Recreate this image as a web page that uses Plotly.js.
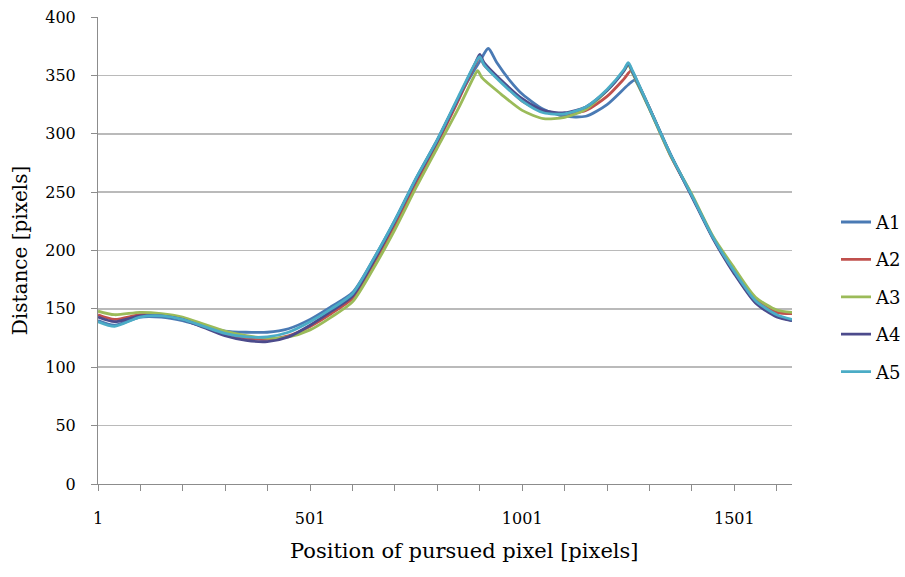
<!DOCTYPE html>
<html>
<head>
<meta charset="utf-8">
<script src="https://cdn.plot.ly/plotly-3.0.1.min.js"></script>
<style>
  html, body { margin: 0; padding: 0; background: #ffffff; }
  #chart { width: 905px; height: 577px; }
</style>
</head>
<body>
<div id="chart"></div>
<script>
// ---- Data ----
const seriesNames = ["A1", "A2", "A3", "A4", "A5"];

const xA1 = [1,40,100,150,200,250,300,350,400,450,501,551,601,651,701,751,801,851,901,921,941,971,1001,1051,1101,1151,1201,1251,1266,1281,1351,1401,1451,1501,1551,1601,1637];
const yA1 = [140,136,143,143,140,135,131,130,130,133,141,152,164,193,226,262,295,331,362,373,361,346,334,321,315,315,325,342,346,337,282,247,211,181,156,144,140];

const xA2 = [1,40,100,150,200,250,300,350,400,450,501,551,601,651,701,751,801,851,891,901,911,951,1001,1051,1101,1151,1201,1241,1258,1271,1301,1351,1401,1451,1501,1551,1601,1637];
const yA2 = [145,141,145,145,142,136,129,125,124,127,135,146,159,189,222,258,292,329,360,366,359,345,328,319,317,320,332,347,354,345,322,281,247,211,183,158,147,146];

const xA3 = [1,40,100,150,200,250,300,350,400,450,501,551,601,651,701,751,801,851,886,896,906,951,1001,1051,1101,1151,1201,1241,1251,1261,1301,1351,1401,1451,1501,1551,1601,1637];
const yA3 = [148,145,147,146,143,137,131,127,125,126,132,143,156,185,218,254,288,322,348,354,348,334,320,313,314,321,337,354,359,352,321,281,248,212,185,160,149,147];

const xA4 = [1,40,100,150,200,250,300,350,400,450,501,551,601,651,701,751,801,851,891,901,911,951,1001,1051,1101,1151,1201,1241,1251,1261,1301,1351,1401,1451,1501,1551,1601,1637];
const yA4 = [143,139,144,144,141,134,127,123,122,126,136,148,161,191,225,261,294,331,361,368,361,346,330,320,318,323,337,354,360,353,322,282,246,210,180,155,143,140];

const xA5 = [1,40,100,150,200,250,300,350,400,450,501,551,601,651,701,751,801,851,891,901,911,951,1001,1051,1101,1151,1201,1241,1251,1261,1301,1351,1401,1451,1501,1551,1601,1637];
const yA5 = [139,135,143,144,141,135,129,126,126,130,139,150,163,193,226,262,295,332,361,366,359,344,328,318,317,323,338,355,361,354,322,282,247,211,182,157,145,141];

const xTickVals = [1,101,201,301,401,501,601,701,801,901,1001,1101,1201,1301,1401,1501,1601];
const xTickText = ["1","","","","","501","","","","","1001","","","","","1501",""];
const yTickVals = [0,50,100,150,200,250,300,350,400];

const xTitle = "Position of pursued pixel [pixels]";
const yTitle = "Distance [pixels]";

// ---- Styling ----
const colors = ["#4a7ab4", "#c0504d", "#9bbb59", "#4c4b8c", "#4bacc6"];
const xs = [xA1, xA2, xA3, xA4, xA5];
const ys = [yA1, yA2, yA3, yA4, yA5];
const FONT = "DejaVu Serif, Liberation Serif, serif";

const traces = seriesNames.map((name, i) => ({
  type: "scatter",
  mode: "lines",
  name: name,
  x: xs[i],
  y: ys[i],
  legendgroup: name,
  line: { color: colors[i], width: 2.8, shape: "spline", smoothing: 0.7 },
  hoverinfo: "x+y+name"
}));

const layout = {
  width: 905,
  height: 577,
  paper_bgcolor: "#ffffff",
  plot_bgcolor: "#ffffff",
  margin: { l: 98, r: 113, t: 17, b: 93, pad: 0 },
  font: { family: FONT, color: "#000000", size: 16 },
  showlegend: true,
  legend: {
    xref: "container",
    x: 836 / 905, xanchor: "left",
    y: 0.60, yanchor: "top",
    traceorder: "grouped",
    tracegroupgap: 11,
    font: { family: FONT, size: 18, color: "#000000" },
    bgcolor: "rgba(0,0,0,0)",
    borderwidth: 0
  },
  xaxis: {
    range: [1, 1637],
    tickmode: "array",
    tickvals: xTickVals,
    ticktext: xTickText,
    ticks: "outside",
    ticklen: 6,
    tickwidth: 1,
    tickcolor: "#8c8c8c",
    ticklabelstandoff: 14,
    showgrid: false,
    zeroline: false,
    showline: true,
    linecolor: "#8c8c8c",
    linewidth: 1,
    automargin: false,
    tickfont: { family: FONT, size: 16, color: "#000000" }
  },
  yaxis: {
    range: [0, 400],
    tickmode: "array",
    tickvals: yTickVals,
    ticks: "outside",
    ticklen: 6,
    tickwidth: 1,
    tickcolor: "#8c8c8c",
    ticklabelstandoff: 12,
    showgrid: true,
    gridcolor: "#bababa",
    gridwidth: 1.6,
    zeroline: false,
    showline: true,
    linecolor: "#8c8c8c",
    linewidth: 1,
    automargin: false,
    tickfont: { family: FONT, size: 16, color: "#000000" },
    title: { text: yTitle, font: { family: FONT, size: 20, color: "#000000" }, standoff: 12 }
  },
  annotations: [{
    text: xTitle,
    xref: "paper", yref: "paper",
    x: (465 - 98) / 694, y: (484.3 - 551) / 467.6,
    xanchor: "center", yanchor: "middle",
    showarrow: false,
    font: { family: FONT, size: 21, color: "#000000" }
  }]
};

Plotly.newPlot("chart", traces, layout, { displayModeBar: false, staticPlot: true });
</script>
</body>
</html>
